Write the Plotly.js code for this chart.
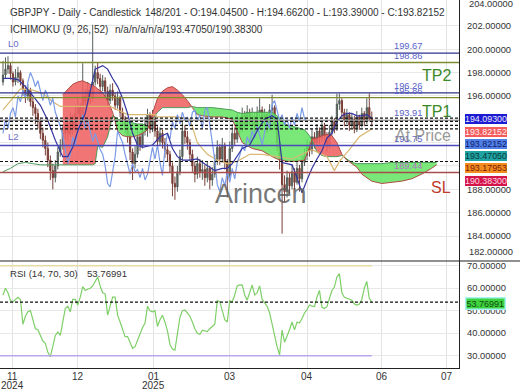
<!DOCTYPE html>
<html><head><meta charset="utf-8">
<script src="https://cdn.plot.ly/plotly-3.0.1.min.js"></script>
<style>html,body{margin:0;padding:0;background:#fff}#c{width:520px;height:390px}</style>
</head><body><div id="c"></div>
<script>
// ---------- DATA ----------
const opens = [197.2,197.8,198.3,198.6,197.9,197.2,197.6,198.0,197.3,196.6,
196.0,196.5,195.5,195.0,194.5,193.8,192.8,192.2,191.5,190.5,
189.6,189.0,190.0,191.2,191.8,192.8,193.5,192.8,194.0,193.2,
194.5,195.0,194.2,196.0,195.5,196.5,195.8,197.2,198.0,197.5,
196.8,197.3,196.4,195.6,196.5,196.0,195.2,195.8,194.6,194.0,
193.4,192.6,191.2,190.2,191.0,192.5,191.8,193.0,193.6,194.4,
193.2,194.0,193.0,192.1,192.8,192.0,191.4,191.0,190.0,188.5,
188.2,189.5,190.8,193.0,192.5,192.0,191.0,190.0,189.3,190.2,
189.5,189.7,189.0,189.8,188.8,189.3,190.4,191.6,190.6,191.8,
190.3,189.2,191.5,192.8,192.3,193.8,193.2,194.4,193.6,194.6,
193.9,194.2,193.4,194.6,194.8,193.8,194.4,193.2,194.8,195.0,
193.5,192.0,190.5,188.4,187.8,189.0,188.3,189.5,188.6,189.8,
188.9,190.3,190.9,191.7,191.3,192.5,192.0,193.0,192.4,193.4,
192.6,191.8,192.9,193.8,193.2,195.3,195.6,194.6,193.9,194.4,
193.5,194.0,193.2,194.2,193.5,194.5,193.8,195.0,194.045];
const closes = [197.8,198.3,198.6,197.9,197.2,197.6,198.0,197.3,196.6,196.0,
196.5,195.5,195.0,194.5,193.8,192.8,192.2,191.5,190.5,189.6,
189.0,190.0,191.2,191.8,192.8,193.5,192.8,194.0,193.2,194.5,
195.0,194.2,196.0,195.5,196.5,195.8,197.2,198.0,197.5,196.8,
197.3,196.4,195.6,196.5,196.0,195.2,195.8,194.6,194.0,193.4,
192.6,191.2,190.2,191.0,192.5,191.8,193.0,193.6,194.4,193.2,
194.0,193.0,192.1,192.8,192.0,191.4,191.0,190.0,188.5,188.2,
189.5,190.8,193.0,192.5,192.0,191.0,190.0,189.3,190.2,189.5,
189.7,189.0,189.8,188.8,189.3,190.4,191.6,190.6,191.8,190.3,
189.2,191.5,192.8,192.3,193.8,193.2,194.4,193.6,194.6,193.9,
194.2,193.4,194.6,194.8,193.8,194.4,193.2,194.8,195.0,193.5,
192.0,190.5,188.4,187.8,189.0,188.3,189.5,188.6,189.8,188.9,
190.3,190.9,191.7,191.3,192.5,192.0,193.0,192.4,193.4,192.6,
191.8,192.9,193.8,193.2,195.3,195.6,194.6,193.9,194.4,193.5,
194.0,193.2,194.2,193.5,194.5,193.8,195.0,194.05,193.82152];
const highs = [199.0,199.3,199.4,198.9,198.1,198.3,198.5,198.2,197.5,196.9,
197.0,196.7,195.9,195.3,194.9,194.0,193.3,192.6,192.0,190.9,
190.2,190.5,191.6,192.3,193.4,194.2,194.0,194.6,194.4,195.2,
195.9,195.4,198.8,196.6,197.2,196.9,202.1,198.6,198.9,197.9,
197.8,197.6,196.8,197.0,197.1,196.3,196.4,196.0,195.0,194.3,
193.8,192.9,191.5,191.7,193.3,192.9,193.6,194.2,194.9,194.6,
194.8,194.3,193.4,193.3,193.1,192.4,191.9,191.3,190.3,189.1,
190.0,191.4,193.9,193.5,193.0,192.3,191.4,190.4,190.8,190.6,
190.5,190.1,190.4,190.0,189.9,191.0,192.2,191.9,192.4,192.0,
190.6,192.1,193.6,193.3,194.5,194.2,195.0,194.7,195.2,194.9,
195.0,194.6,195.1,195.8,195.1,194.9,194.6,195.3,196.1,195.2,
193.8,192.3,190.8,189.2,189.6,189.4,190.1,189.8,190.6,190.1,
190.9,191.5,192.3,192.1,193.2,192.9,193.6,193.3,193.9,193.7,
192.9,193.5,194.3,194.1,196.2,196.2,195.8,194.9,194.9,194.6,
194.5,194.3,194.7,194.4,195.0,194.7,195.8,196.2,194.662];
const lows = [196.9,197.5,197.9,197.4,196.8,196.9,197.1,196.9,196.0,195.4,
195.6,195.1,194.3,193.6,193.2,192.3,191.6,190.9,189.9,188.8,
188.0,188.6,189.7,190.8,191.4,192.3,192.2,192.5,192.7,192.9,
194.0,193.6,193.9,195.0,195.2,195.3,195.5,196.9,197.0,196.2,
196.4,195.9,195.0,195.3,195.6,194.8,194.9,194.2,193.4,192.8,
192.0,190.5,188.8,189.8,190.7,191.3,191.5,192.6,192.5,192.8,
192.9,192.5,191.6,191.8,191.5,190.7,190.4,189.4,187.4,187.1,
187.8,189.2,190.5,191.9,191.4,190.4,189.5,188.6,188.9,189.0,
188.8,188.3,188.6,188.0,188.3,189.0,190.1,190.1,190.3,189.7,
187.3,189.0,191.2,191.8,192.0,192.7,192.9,193.1,193.3,193.4,
193.3,192.9,193.1,194.1,193.3,193.4,192.8,193.0,194.3,193.1,
191.3,189.7,184.2,186.9,187.3,187.6,188.0,187.9,188.4,187.8,
188.6,190.0,190.5,190.8,191.0,191.5,191.7,191.9,192.1,192.2,
191.2,191.5,192.6,192.8,193.0,194.8,194.2,193.4,193.6,193.0,
193.2,192.8,192.9,193.1,193.3,193.4,193.6,193.8,193.39];
const rsi = [57,60,58,54.5,54,55,56,55,44,47.5,
49.5,50,46,42,41.5,39,36.5,35.5,31.5,29.5,
34,39,40.5,39,45,51,52,49.5,55,55,
52.5,56,60.7,59,59.5,60,61,63,65,61,
58,57.5,48,52,56,56,48,45,42,38.5,
38.5,35.5,33.3,34,37,40,42.5,44.5,52,50,
49.5,50,43,46,48,45,41,35,33,32.5,
39,47,50,50.3,49,47.5,45,42,40,39.5,
41.3,41,40.7,42,43,44,54.5,54,50,46,
45,54.5,54,57,61,61.5,61.4,57,54.7,58,
61.4,57,58,61,55,53.5,52,49,44,37.5,
34,30.3,41.4,36,38.5,41.5,45,41.5,45,44.5,
46.5,49,50.5,52.5,52,51.8,56,59,51.5,51,
51.8,55,59,60.5,65,66.5,58,56,55.5,55,
54.7,53,52.5,53,55,60,63,55.5,53.76991];

const tenkanBars = [0,3,6,9,12,15,18,21,24,26,28,30,33,35,37,40,42,44,46,48,50,52,54,56,60,63,66,68,70,72,75,78,82,85,88,90,92,94,96,99,102,105,108,110,112,114,116,118,120,122,124,126,128,130,132,134,136,138,140,142,144,146,148];
const tenkan = [197.5,197.5,197.4,196.8,196.0,195.2,193.9,192.2,190.8,190.8,191.6,193.0,194.5,196.5,198.3,198.6,198.3,197.5,196.8,195.8,194.5,192.8,191.8,191.6,191.8,192.5,192.8,191.5,190.8,190.5,190.5,190.6,190.0,189.6,189.8,189.8,190.2,190.8,191.5,191.8,193.0,194.0,194.3,194.0,190.3,190.2,190.1,189.0,187.7,188.8,189.8,190.6,191.3,192.4,192.8,193.8,194.3,194.5,194.5,194.3,194.3,194.4,194.093];
const kijunBars = [0,3,7,12,16,20,23,30,36,43,46,50,56,61,62,70,75,78,82,86,90,94,99,104,110,116,120,124,130,133,135,139,143,148];
const kijun = [194.8,195.6,196.6,196.5,196.2,195.5,195.1,195.1,195.1,195.1,194.8,194.4,194.4,194.4,194.2,194.2,194.0,192.0,191.0,190.5,190.2,190.4,191.0,191.0,190.8,190.6,191.0,191.4,190.8,189.6,190.4,191.4,192.5,193.18];
const earlyABars = [0,3,6,9,12,15,18,21,24];
const earlyA = [189.5,189.8,190.2,190.3,190.2,190.1,190.1,190.1,190.1];
const cloudBars = [24,26,28,30,32,34,36,37,38,40,42,44,45,46,48,50,52,54,56,58,60,62,64,66,68,70,72,74,76,78,80,84,88,92,94,96,100,104,108,110,112,114,118,121,123,124,126,128,130,132,134,136,138,140,142,144,148,152,156,160,164,168,172,174];
const spanA = [190.1,190.1,190.1,190.1,190.1,190.1,190.1,190.2,191.7,191.6,192.5,194.3,194.2,194.0,193.9,193.8,193.7,193.6,193.6,193.3,194.0,194.6,195.0,195.0,195.0,195.0,195.0,195.0,195.1,195.0,195.0,195.0,194.9,194.8,194.6,194.5,194.6,194.6,194.6,194.3,193.9,193.5,193.3,193.1,192.6,192.2,191.2,190.9,190.8,190.8,190.8,190.9,190.6,190.3,190.2,190.2,190.2,190.2,190.3,190.3,190.3,190.3,190.3,190.3];
const spanB = [196.1,196.6,197.0,197.2,197.3,197.1,196.9,196.8,196.6,196.3,195.6,194.6,193.8,193.0,192.6,192.5,192.5,192.6,192.8,193.1,194.5,195.8,196.4,196.7,196.8,196.5,196.1,195.6,195.0,194.4,194.3,194.2,194.2,194.0,193.0,192.0,191.5,191.3,190.8,190.6,190.5,190.4,190.4,190.5,191.6,192.3,192.4,192.6,192.7,192.6,192.0,191.0,190.5,190.2,189.9,189.3,188.7,188.5,188.6,188.7,188.9,189.3,189.8,190.1];

const levelVals = [199.67,198.86,196.26,195.86,193.91,191.75,189.44];
const levelLabels = ['199.67','198.86','196.26','195.86','193.91','191.75','189.44'];
const currentVals = [194.093,193.82152,193.4705,193.17953,190.383];
const tagTexts = ['194.09300','193.82152','193.82152','193.47050','193.17953','190.38300'];
const rsiLast = 53.76991;
const tickBars = [4,30,60.4,91,122,152,178];
const tickMonths = ['11','12','01','03','04','06','07'];
const tickYears = ['2024','','2025','','','',''];
const priceTicks = [184,186,188,190,192,194,196,198,200,202];
const hiddenPriceTicks = [190,192,194];   // covered by the value tags in the reference
const rsiTicks = [30,40,50,60,70];

// ---------- STYLE / LAYOUT ----------
const PW = 459, PH = 368;
const px = v => v / PW, py = v => 1 - v / PH;
const FONT = 'Liberation Sans, Arial, sans-serif';
const bars = closes.map((_, i) => i);

const traces = [];
function segSign(k){ return (spanA[k]+spanA[k+1]) - (spanB[k]+spanB[k+1]) >= 0 ? 1 : -1; }
let i = 0; const n = cloudBars.length;
while (i < n - 1) {
  const s = segSign(i); let j = i;
  while (j < n - 1 && segSign(j) === s) j++;
  const xs = [], ys = [];
  for (let k = i; k <= j; k++) { xs.push(cloudBars[k]); ys.push(spanA[k]); }
  for (let k = j; k >= i; k--) { xs.push(cloudBars[k]); ys.push(spanB[k]); }
  traces.push({type:'scatter', mode:'lines', x:xs, y:ys, fill:'toself',
    fillcolor: s > 0 ? 'rgba(98,228,98,0.85)' : 'rgba(240,98,98,0.88)',
    line:{width:0}, hoverinfo:'skip', xaxis:'x', yaxis:'y'});
  i = j;
}
traces.push({type:'scatter', mode:'lines', x:earlyABars.concat(cloudBars), y:earlyA.concat(spanA),
  line:{color:'#4f9a5a', width:1}, hoverinfo:'skip'});
traces.push({type:'scatter', mode:'lines', x:cloudBars, y:spanB, line:{color:'#b14a44', width:1}, hoverinfo:'skip'});
traces.push({type:'scatter', mode:'lines', x:kijunBars, y:kijun, line:{color:'#d9b872', width:1.2}, hoverinfo:'skip'});
traces.push({type:'scatter', mode:'lines', x:bars.slice(26).map(b => b - 26), y:closes.slice(26),
  line:{color:'#7b9be6', width:1.2}, hoverinfo:'skip'});
traces.push({type:'scatter', mode:'lines', x:tenkanBars, y:tenkan, line:{color:'#3535a0', width:1.2}, hoverinfo:'skip'});
traces.push({type:'candlestick', x:bars, open:opens, high:highs, low:lows, close:closes,
  increasing:{line:{color:'#56605a', width:1}, fillcolor:'#56605a'},
  decreasing:{line:{color:'#7a3f37', width:1}, fillcolor:'#7a3f37'},
  whiskerwidth:0, hoverinfo:'skip', xaxis:'x', yaxis:'y'});
traces.push({type:'scatter', mode:'lines', x:bars, y:rsi, line:{color:'#7fcf68', width:1.2},
  hoverinfo:'skip', xaxis:'x', yaxis:'y2'});

const shapes = [];
const levelColors = ['#30308e','#7d8a2e','#30308e','#7d8a2e','#a0a0a0','#4949b8','#a84b4b'];
levelVals.forEach((v, k) => shapes.push({type:'line', xref:'paper', x0:0, x1:1, yref:'y', y0:v, y1:v,
  line:{color:levelColors[k], width:1.4}}));
currentVals.forEach(v => shapes.push({type:'line', xref:'paper', x0:0, x1:1, yref:'y', y0:v, y1:v,
  line:{color:'#111', width:1.2, dash:'3px,2px'}}));
shapes.push({type:'line', xref:'x', x0:-1.2, x1:bars[bars.length-1], yref:'y2', y0:70, y1:70, line:{color:'#e6dca2', width:1.6}});
shapes.push({type:'line', xref:'x', x0:-1.2, x1:bars[bars.length-1], yref:'y2', y0:30, y1:30, line:{color:'#baa6ea', width:1.6}});
shapes.push({type:'line', xref:'paper', x0:0, x1:1, yref:'y2', y0:rsiLast, y1:rsiLast, line:{color:'#111', width:1.2, dash:'3px,2px'}});
shapes.push({type:'line', xref:'paper', x0:0, x1:520/PW, yref:'paper', y0:py(261), y1:py(261), line:{color:'#222', width:1.2}});

const ann = [];
function txt(t, x, y, o) {
  ann.push(Object.assign({text:t, xref:'paper', yref:'paper', x:px(x), y:py(y), showarrow:false,
    xanchor:'left', yanchor:'middle', font:{family:FONT, size:9.6, color:'#333'}}, o || {}));
}
const HF = {family:FONT, size:10, color:'#333'};
txt('GBPJPY - Daily - Candlestick', 8, 12.5, {font:HF});
txt('148/201 - O:194.04500 - H:194.66200 - L:193.39000 - C:193.82152', 143, 12.5, {font:HF});
txt('ICHIMOKU (9, 26, 52)', 8, 29.5, {font:HF});
txt('n/a/n/a/n/a/193.47050/190.38300', 113, 29.5, {font:HF});
txt('L0', 6, 44, {font:{family:FONT, size:9.6, color:'#6a70c8'}});
txt('L2', 6, 137, {font:{family:FONT, size:9.6, color:'#6a70c8'}});
levelVals.forEach((v, k) => ann.push({text:levelLabels[k], xref:'paper', yref:'y', x:px(424), y:v, yshift:7,
  xanchor:'right', yanchor:'middle', showarrow:false,
  font:{family:FONT, size:9.3, color: k === 6 ? '#b274c8' : '#5a62c8'}}));
txt('TP2', 453, 75.5, {xanchor:'right', font:{family:FONT, size:16, color:'#3b8a2a'}});
txt('TP1', 453, 111.5, {xanchor:'right', font:{family:FONT, size:16, color:'#3b8a2a'}});
txt('At Price', 453, 135, {xanchor:'right', font:{family:FONT, size:16, color:'rgba(125,125,125,0.8)'}});
txt('SL', 453, 187.5, {xanchor:'right', font:{family:FONT, size:16, color:'#c0392b'}});
txt('Arincen', 261, 194, {xanchor:'center', font:{family:FONT, size:27, color:'rgba(95,95,95,0.85)'}});
txt('RSI (14, 70, 30)', 8, 273.5);
txt(rsiLast.toFixed(5), 85, 273.5);
txt('204.00000', 467, 4, {font:{family:FONT, size:9.3, color:'#333'}});
txt('182.00000', 467, 252, {font:{family:FONT, size:9.3, color:'#333'}});

tickBars.forEach((b, k) => {
  ann.push({text:tickMonths[k], xref:'x', yref:'paper', x:b, y:py(376), xanchor:'center', yanchor:'middle',
    showarrow:false, font:{family:FONT, size:10, color:'#333'}});
  if (tickYears[k]) ann.push({text:tickYears[k], xref:'x', yref:'paper', x:b, y:py(385), xanchor:'center', yanchor:'middle',
    showarrow:false, font:{family:FONT, size:10, color:'#333'}});
});

const tagY = [119.3,131.6,143.9,156.2,168.5,180.6];
const tagBg = ['#1b1bd2','#f25c5c','#4f7fe6','#1fa3a3','#f28c1e','#d4154a'];
const tagFg = ['#e8e8ff','#fff2f2','#10206a','#0d3a3a','#7a1a0a','#ffd6e4'];
tagTexts.forEach((t, k) => txt(t, 465, tagY[k], {bgcolor:tagBg[k], borderwidth:0, borderpad:0,
  font:{family:FONT, size:8.9, color:tagFg[k]}}));
txt(rsiLast.toFixed(5), 465, 303, {bgcolor:'#3fd43f', bordercolor:'#a6f3f3', borderwidth:1.5, borderpad:0,
  font:{family:FONT, size:9, color:'#0e4a0e'}});

const layout = {
  width:520, height:390, margin:{l:0, r:61, t:0, b:22, pad:0},
  paper_bgcolor:'#fff', plot_bgcolor:'#fff', showlegend:false,
  font:{family:FONT, size:9.6, color:'#333'},
  xaxis:{range:[-1.2,183], anchor:'y2', tickvals:tickBars, showticklabels:false, showgrid:true, gridcolor:'#e3e3e3',
    showline:true, linecolor:'#222', linewidth:1.2, zeroline:false, ticks:'', rangeslider:{visible:false},
    fixedrange:true},
  yaxis:{domain:[py(261),1], range:[181.86,204.22], side:'right', tickvals:priceTicks,
    ticktext:priceTicks.map(v => hiddenPriceTicks.includes(v) ? '' : v.toFixed(5)),
    showgrid:true, gridcolor:'#e8e8e8', zeroline:false,
    showline:true, linecolor:'#222', linewidth:1.2, ticks:'outside', ticklen:5, tickcolor:'rgba(0,0,0,0)',
    tickfont:{family:FONT, size:9.3, color:'#333'}, fixedrange:true},
  yaxis2:{domain:[0,py(261)], range:[24.53,72.09], side:'right', tickvals:rsiTicks,
    ticktext:rsiTicks.map(v => v.toFixed(5)), showgrid:true, gridcolor:'#e8e8e8', zeroline:false,
    showline:true, linecolor:'#222', linewidth:1.2, ticks:'outside', ticklen:5, tickcolor:'rgba(0,0,0,0)',
    tickfont:{family:FONT, size:9.3, color:'#333'}, fixedrange:true},
  shapes:shapes, annotations:ann
};
Plotly.newPlot('c', traces, layout, {staticPlot:true, displayModeBar:false});
</script></body></html>
